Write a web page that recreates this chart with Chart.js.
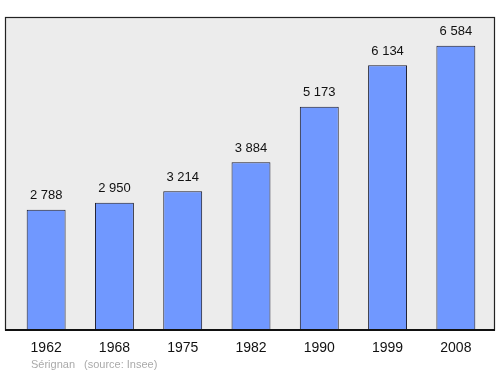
<!DOCTYPE html>
<html>
<head>
<meta charset="utf-8">
<script src="https://cdn.jsdelivr.net/npm/chart.js@4/dist/chart.umd.min.js"></script>
<style>
  body { margin: 0; background: #fff; }
  #wrap { width: 500px; height: 374px; position: relative; }
</style>
</head>
<body>
<div id="wrap"><canvas id="myChart" width="500" height="374"></canvas></div>
<script>
const years = ['1962', '1968', '1975', '1982', '1990', '1999', '2008'];
const population = [2788, 2950, 3214, 3884, 5173, 6134, 6584];
const yMax = 7250;
const placeName = 'Sérignan';
const sourceText = '(source: Insee)';

// "2 788" style numbers
const fmt = (v) => String(v).replace(/\B(?=(\d{3})+(?!\d))/g, ' ');

// grey frame behind the bars
const framePlugin = {
  id: 'frame',
  beforeDraw(chart) {
    const ctx = chart.ctx;
    const a = chart.chartArea;
    ctx.save();
    ctx.fillStyle = '#ececec';
    ctx.fillRect(5, 17, 490, a.bottom - 17);
    ctx.strokeStyle = '#222';
    ctx.lineWidth = 1.2;
    ctx.strokeRect(5.5, 17.5, 489, a.bottom - 17.5);
    ctx.restore();
  },
  afterDatasetsDraw(chart) {
    const ctx = chart.ctx;
    const a = chart.chartArea;
    ctx.save();
    // bottom axis line
    ctx.strokeStyle = '#111';
    ctx.lineWidth = 2;
    ctx.beginPath();
    ctx.moveTo(5, a.bottom);
    ctx.lineTo(495, a.bottom);
    ctx.stroke();

    // value labels over bars
    ctx.fillStyle = '#111';
    ctx.font = '13px "Liberation Sans", Arial, sans-serif';
    ctx.textAlign = 'center';
    ctx.textBaseline = 'middle';
    chart.getDatasetMeta(0).data.forEach((bar, i) => {
      ctx.fillText(fmt(population[i]), bar.x, bar.y - 14);
    });

    // source line
    ctx.fillStyle = '#aaa';
    ctx.font = '11px "Liberation Sans", Arial, sans-serif';
    ctx.textAlign = 'left';
    ctx.fillText(placeName, 31, 365);
    ctx.fillText(sourceText, 84, 365);
    ctx.restore();
  }
};

new Chart(document.getElementById('myChart'), {
  type: 'bar',
  data: {
    labels: years,
    datasets: [{
      data: population,
      backgroundColor: '#7098ff',
      borderColor: '#1a1a2a',
      borderWidth: 1,
      categoryPercentage: 1,
      barPercentage: 0.57
    }]
  },
  options: {
    responsive: false,
    animation: false,
    layout: { padding: { left: 12, right: 10, top: 17, bottom: 0 } },
    plugins: { legend: { display: false }, tooltip: { enabled: false } },
    scales: {
      x: {
        grid: { display: false },
        border: { display: false },
        ticks: {
          color: '#111',
          padding: 2,
          font: { size: 14, family: '"Liberation Sans", Arial, sans-serif' }
        },
        afterFit(scale) { scale.height = 44; }
      },
      y: {
        display: false,
        min: 0,
        max: yMax
      }
    }
  },
  plugins: [framePlugin]
});
</script>
</body>
</html>
